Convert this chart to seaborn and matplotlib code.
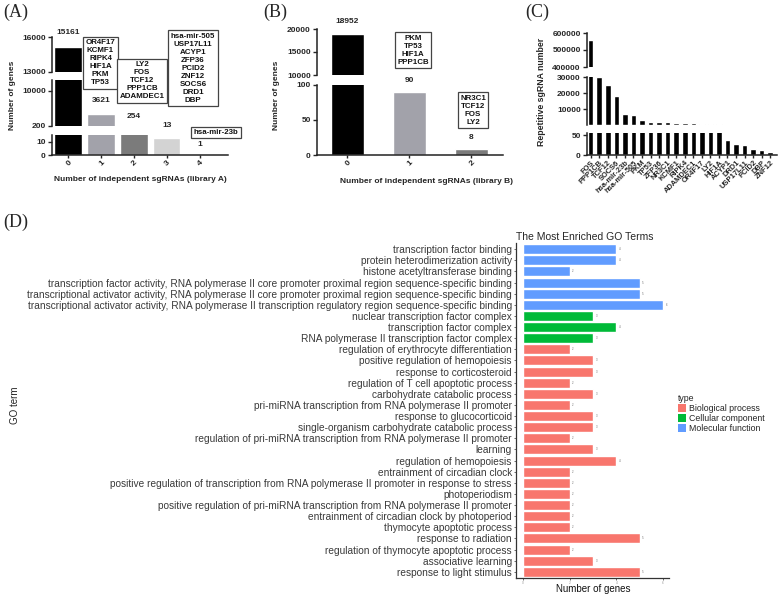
import numpy as np
import pandas as pd
import matplotlib
matplotlib.use("Agg")
import matplotlib.pyplot as plt
from matplotlib.patches import Patch
import seaborn as sns

# ---------------- data ----------------
a_cats = ["0", "1", "2", "3", "4"]
a_vals = [15161, 3621, 254, 13, 1]
a_colors = ["#000000", "#a2a2aa", "#7b7b7b", "#d3d3d3", "#3a3a3a"]
a_box_texts = ["OR4F17\nKCMF1\nRIPK4\nHIF1A\nPKM\nTP53",
               "LY2\nFOS\nTCF12\nPPP1CB\nADAMDEC1",
               "hsa-mir-505\nUSP17L11\nACYP1\nZFP36\nPCID2\nZNF12\nSOCS6\nDRD1\nDBP",
               "hsa-mir-23b"]

b_cats = ["0", "1", "2"]
b_vals = [18952, 90, 8]
b_colors = ["#000000", "#a2a2aa", "#7b7b7b"]
b_box_texts = ["PKM\nTP53\nHIF1A\nPPP1CB", "NR3C1\nTCF12\nFOS\nLY2"]

c_genes = ["FOS", "PPP1CB", "TCF12", "SOCS6", "hsa-mir-23b", "hsa-mir-505", "PKM",
           "TP53", "ZFP36", "NR3C1", "KCMF1", "RIPK4", "ADAMDEC1", "OR4F17", "LY2",
           "HIF1A", "ACYP1", "DRD1", "USP17L11", "PCID2", "DBP", "ZNF12"]
c_vals = [557000, 29900, 24800, 18300, 6900, 6500, 3300, 2100, 2000, 2000, 1500,
          1400, 1200, 900, 800, 700, 37, 27, 26, 14, 12, 7]

go_terms = [
    "transcription factor binding",
    "protein heterodimerization activity",
    "histone acetyltransferase binding",
    "transcription factor activity, RNA polymerase II core promoter proximal region sequence-specific binding",
    "transcriptional activator activity, RNA polymerase II core promoter proximal region sequence-specific binding",
    "transcriptional activator activity, RNA polymerase II transcription regulatory region sequence-specific binding",
    "nuclear transcription factor complex",
    "transcription factor complex",
    "RNA polymerase II transcription factor complex",
    "regulation of erythrocyte differentiation",
    "positive regulation of hemopoiesis",
    "response to corticosteroid",
    "regulation of T cell apoptotic process",
    "carbohydrate catabolic process",
    "pri-miRNA transcription from RNA polymerase II promoter",
    "response to glucocorticoid",
    "single-organism carbohydrate catabolic process",
    "regulation of pri-miRNA transcription from RNA polymerase II promoter",
    "learning",
    "regulation of hemopoiesis",
    "entrainment of circadian clock",
    "positive regulation of transcription from RNA polymerase II promoter in response to stress",
    "photoperiodism",
    "positive regulation of pri-miRNA transcription from RNA polymerase II promoter",
    "entrainment of circadian clock by photoperiod",
    "thymocyte apoptotic process",
    "response to radiation",
    "regulation of thymocyte apoptotic process",
    "associative learning",
    "response to light stimulus",
]
go_counts = [4, 4, 2, 5, 5, 6, 3, 4, 3, 2, 3, 3, 2, 3, 2, 3, 3, 2, 3, 4,
             2, 2, 2, 2, 2, 2, 5, 2, 3, 5]
go_types = (["Molecular function"] * 6 + ["Cellular component"] * 3 +
            ["Biological process"] * 21)
go_type_order = ["Biological process", "Cellular component", "Molecular function"]
go_palette = ["#F8766D", "#00BA38", "#619CFF"]

# ---------------- style ----------------
sns.set_style("ticks")
plt.rcParams["font.family"] = ["Liberation Sans", "DejaVu Sans"]

W, H = 778, 595
fig = plt.figure(figsize=(W / 100, H / 100), dpi=100)


def add_ax(x0, y0, x1, y1):
    return fig.add_axes([x0 / W, 1 - y1 / H, (x1 - x0) / W, (y1 - y0) / H])


def px2pt(p):
    return p * 0.72


def broken_panel(segments, cats, vals, colors, x0, x1, width, xlim, fs=6):
    axes = []
    n = len(segments)
    for k, (ytop, ybot, ylim, ticks) in enumerate(segments):
        ax = add_ax(x0, ytop, x1, ybot)
        if isinstance(colors, str):
            sns.barplot(x=cats, y=vals, color=colors, ax=ax, width=width,
                        saturation=1, order=cats)
        else:
            sns.barplot(x=cats, y=vals, hue=cats, palette=colors, legend=False,
                        ax=ax, width=width, saturation=1, order=cats, hue_order=cats)
        ax.set_ylim(*ylim)
        ax.set_xlim(*xlim)
        ax.set_yticks(ticks)
        ax.set_yticklabels([str(t) for t in ticks], fontsize=fs, fontweight="bold")
        ax.set_xlabel("")
        ax.set_ylabel("")
        ax.tick_params(axis="y", length=3, width=1, pad=1.5)
        last = (k == n - 1)
        sns.despine(ax=ax, bottom=not last)
        for s in ax.spines.values():
            s.set_linewidth(1.1)
            s.set_color("#222222")
        if not last:
            ax.tick_params(axis="x", bottom=False, labelbottom=False)
        else:
            ax.tick_params(axis="x", length=2, width=1, pad=1)
        axes.append(ax)
    return axes


def bold_text(x, y, s, fs=6, **kw):
    fig.text(x / W, 1 - y / H, s, fontsize=fs, fontweight="bold",
             ha=kw.pop("ha", "center"), va=kw.pop("va", "center"), **kw)


def box_text(x, y, s, fs=5.7):
    fig.text(x / W, 1 - y / H, s, fontsize=fs, fontweight="bold", ha="center",
             va="center", linespacing=1.2, color="#111111",
             bbox=dict(boxstyle="square,pad=0.3", fc="white", ec="#444444", lw=0.9))


# ---------------- Panel A ----------------
a_axes = broken_panel(
    [(37, 72, (13000, 16000), [13000, 16000]),
     (80, 126, (200, 13000), [200, 10000]),
     (135, 155, (0, 15), [0, 10])],
    a_cats, a_vals, a_colors, 52, 228, 0.82, (-0.485, 4.85))
axb = a_axes[-1]
axb.set_xticks(range(len(a_cats)))
axb.set_xticklabels(a_cats, rotation=45, ha="right", rotation_mode="anchor",
                    fontsize=6, fontweight="bold")
axb.set_xlabel("Number of independent sgRNAs (library A)", fontsize=6,
               fontweight="bold", labelpad=6)
bold_text(13, 95, "Number of genes", rotation=90)
a_offsets = [(0, 14), (1, 13.5), (1, 9), (2, 12.5), (2, 8.7)]
for i, (v, (seg, off)) in enumerate(zip(a_vals, a_offsets)):
    a_axes[seg].annotate(str(v), (i, min(v, a_axes[seg].get_ylim()[1])),
                         xytext=(0, px2pt(off)), textcoords="offset points",
                         ha="center", va="center", fontsize=6, fontweight="bold",
                         annotation_clip=False)
for (x, y), s in zip([(100.5, 63), (142, 81), (193, 68), (216, 132.5)], a_box_texts):
    box_text(x, y, s)

# ---------------- Panel B ----------------
b_axes = broken_panel(
    [(29, 75, (10000, 20000), [10000, 15000, 20000]),
     (85, 155, (0, 100), [0, 50, 100])],
    b_cats, b_vals, b_colors, 317, 503, 0.53, (-0.49, 2.51))
bb = b_axes[-1]
bb.set_xticks(range(len(b_cats)))
bb.set_xticklabels(b_cats, rotation=45, ha="right", rotation_mode="anchor",
                   fontsize=6, fontweight="bold")
bb.set_xlabel("Number of independent sgRNAs (library B)", fontsize=6,
              fontweight="bold", labelpad=6)
bb.xaxis.set_label_coords((426 - 317) / (503 - 317), -0.33)
bold_text(276, 95, "Number of genes", rotation=90)
b_offsets = [(0, 12.8), (1, 12), (1, 11.7)]
for i, (v, (seg, off)) in enumerate(zip(b_vals, b_offsets)):
    b_axes[seg].annotate(str(v), (i, min(v, b_axes[seg].get_ylim()[1])),
                         xytext=(0, px2pt(off)), textcoords="offset points",
                         ha="center", va="center", fontsize=6, fontweight="bold",
                         annotation_clip=False)
for (x, y), s in zip([(413, 50), (473, 110)], b_box_texts):
    box_text(x, y, s)

# ---------------- Panel C ----------------
c_axes = broken_panel(
    [(33, 67, (400000, 600000), [400000, 500000, 600000]),
     (77, 125, (0, 30000), [10000, 20000, 30000]),
     (133, 155, (0, 55), [0, 50])],
    c_genes, c_vals, "#000000", 587, 777, 0.65, (-0.43, 21.79))
cb = c_axes[-1]
cb.set_xticks(range(len(c_genes)))
cb.set_xticklabels(c_genes, rotation=45, ha="right", rotation_mode="anchor",
                   fontsize=5.4, fontweight="bold")
bold_text(541, 92, "Repetitive sgRNA number", fs=6.3, rotation=90)

# ---------------- Panel D ----------------
df = pd.DataFrame({"term": go_terms, "count": go_counts, "type": go_types})
axd = add_ax(516, 243, 669, 578)
sns.barplot(data=df, x="count", y="term", hue="type", hue_order=go_type_order,
            palette=go_palette, dodge=False, width=0.9, saturation=1,
            orient="h", ax=axd, legend=False, order=go_terms)
axd.set_ylim(len(go_terms) - 0.45, -0.55)
axd.set_xlim(-0.3, 6.25)
axd.set_xticks([0, 2, 4, 6])
axd.set_xticklabels(["0", "2", "4", "6"], fontsize=2.3, color="#999999")
axd.tick_params(axis="x", length=1.5, width=0.6, color="#555555", pad=0.5)
axd.tick_params(axis="y", length=1.5, width=0.6, color="#555555", pad=1.5,
                labelsize=7.3, labelcolor="#3a3a3a")
axd.set_xlabel("")
axd.set_ylabel("")
fig.text(593 / W, 1 - 594 / H, "Number of genes", fontsize=7, ha="center",
         va="bottom", color="#111111")
sns.despine(ax=axd)
for s in ["left", "bottom"]:
    axd.spines[s].set_linewidth(0.9)
    axd.spines[s].set_color("#333333")
for i, c in enumerate(go_counts):
    axd.text(c + 0.1, i, str(c), fontsize=2, color="#666666", va="center", ha="left")
axd.set_title("The Most Enriched GO Terms", loc="left", fontsize=7.5, pad=2)
fig.text(15 / W, 1 - 405 / H, "GO term", rotation=90, fontsize=7, ha="center",
         va="center", color="#222222")
handles = [Patch(facecolor=c, edgecolor="none") for c in go_palette]
fig.legend(handles, go_type_order, title="type", loc="upper left",
           bbox_to_anchor=(672 / W, 1 - 388 / H), frameon=False, fontsize=6.3,
           title_fontsize=6.3, handlelength=0.9, handleheight=1.0,
           handletextpad=0.3, labelspacing=0.1, borderpad=0.2,
           alignment="left")

# ---------------- Panel labels ----------------
for x, y, s in [(3, 12, "(A)"), (263, 12, "(B)"), (525, 12, "(C)"), (3, 222, "(D)")]:
    fig.text(x / W, 1 - y / H, s, fontsize=13, family="Liberation Serif",
             ha="left", va="center")

fig.savefig("out.png", dpi=100)
